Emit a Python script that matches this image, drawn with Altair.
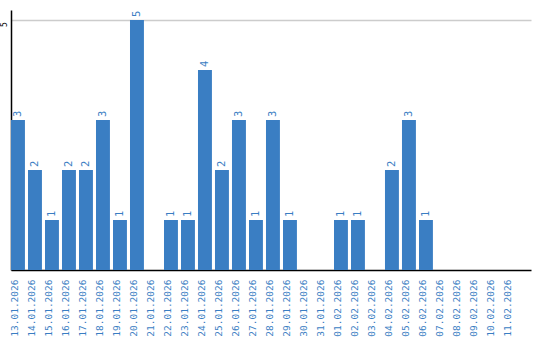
import altair as alt
import pandas as pd

dates = ["13.01.2026", "14.01.2026", "15.01.2026", "16.01.2026", "17.01.2026",
         "18.01.2026", "19.01.2026", "20.01.2026", "21.01.2026", "22.01.2026",
         "23.01.2026", "24.01.2026", "25.01.2026", "26.01.2026", "27.01.2026",
         "28.01.2026", "29.01.2026", "30.01.2026", "31.01.2026", "01.02.2026",
         "02.02.2026", "03.02.2026", "04.02.2026", "05.02.2026", "06.02.2026",
         "07.02.2026", "08.02.2026", "09.02.2026", "10.02.2026", "11.02.2026"]
counts = [3, 2, 1, 2, 2, 3, 1, 5, 0, 1,
          1, 4, 2, 3, 1, 3, 1, 0, 0, 1,
          1, 0, 2, 3, 1, 0, 0, 0, 0, 0]

df = pd.DataFrame({"date": dates, "count": counts})

BLUE = "#3a7ec3"
FONT = "DejaVu Sans Mono"

x = alt.X("date:N", sort=dates,
          scale=alt.Scale(paddingInner=0.18, paddingOuter=0.385, align=0),
          axis=alt.Axis(title=None, labelAngle=270, labelAlign="right",
                        labelBaseline="alphabetic", labelPadding=9,
                        labelColor=BLUE, labelFont=FONT, labelFontSize=9.5,
                        ticks=False, domainColor="black", domainWidth=1.5,
                        grid=False, labelOverlap=False))
y = alt.Y("count:Q", scale=alt.Scale(domain=[0, 5.2], nice=False, zero=True),
          axis=alt.Axis(title=None, values=[5], labelAngle=270, labelAlign="center",
                        labelBaseline="bottom", labelPadding=3, labelFont=FONT,
                        labelFontSize=8, labelColor="black", ticks=False,
                        labelOffset=4,
                        domainColor="black", domainWidth=1.5,
                        grid=True, gridColor="#cccccc", gridWidth=1.5))

bars = alt.Chart(df).mark_bar(color=BLUE).encode(x=x, y=y)

labels = alt.Chart(df).transform_filter("datum.count > 0").mark_text(
    angle=270, align="left", baseline="middle", dx=3,
    color=BLUE, font=FONT, fontSize=10.5
).encode(x=alt.X("date:N", sort=dates), y="count:Q", text="count:Q")

chart = alt.layer(bars, labels).properties(
    width=520, height=260,
    background="white",
    autosize=alt.AutoSizeParams(type="none"),
    padding={"left": 11, "top": 10, "right": 9, "bottom": 70},
).configure_view(stroke=None)

chart.save("out.html", embed_options={"renderer": "svg", "actions": False})
